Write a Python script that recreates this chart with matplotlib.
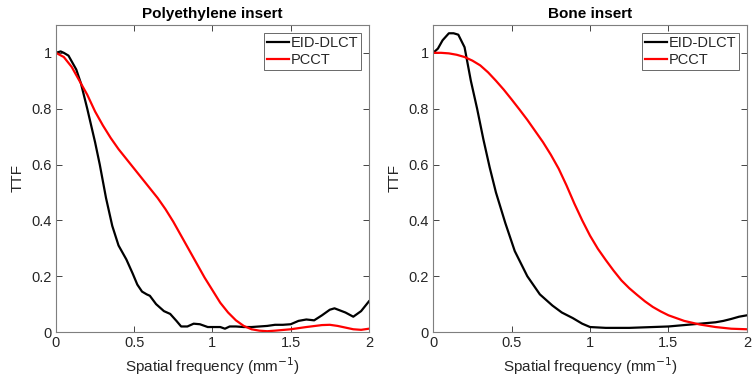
import matplotlib
matplotlib.use("Agg")
import matplotlib.pyplot as plt
from matplotlib.ticker import FuncFormatter

plt.rcParams['font.family'] = ['Liberation Sans', 'DejaVu Sans']

# Polyethylene insert
pe_eid_x = [0, 0.03, 0.05, 0.08, 0.1, 0.13, 0.16, 0.2, 0.25, 0.28, 0.32, 0.36, 0.4, 0.45, 0.49, 0.52, 0.55, 0.58, 0.6, 0.64, 0.69, 0.73, 0.77, 0.8, 0.84, 0.88, 0.92, 0.97, 1.0, 1.05, 1.08, 1.11, 1.15, 1.2, 1.25, 1.3, 1.35, 1.4, 1.45, 1.5, 1.55, 1.6, 1.65, 1.7, 1.75, 1.78, 1.85, 1.9, 1.95, 2.0]
pe_eid_y = [1.0, 1.005, 1.0, 0.99, 0.97, 0.94, 0.89, 0.8, 0.68, 0.6, 0.48, 0.38, 0.31, 0.26, 0.21, 0.17, 0.145, 0.135, 0.13, 0.1, 0.075, 0.065, 0.04, 0.02, 0.02, 0.03, 0.028, 0.018, 0.018, 0.018, 0.012, 0.02, 0.02, 0.018, 0.018, 0.02, 0.022, 0.026, 0.026, 0.028, 0.04, 0.045, 0.042, 0.06, 0.08, 0.085, 0.07, 0.055, 0.075, 0.11]
pe_pcct_x = [0, 0.05, 0.1, 0.15, 0.2, 0.25, 0.3, 0.35, 0.4, 0.45, 0.5, 0.55, 0.6, 0.65, 0.7, 0.75, 0.8, 0.85, 0.9, 0.95, 1.0, 1.05, 1.1, 1.15, 1.2, 1.25, 1.3, 1.35, 1.4, 1.5, 1.6, 1.7, 1.75, 1.8, 1.9, 1.95, 2.0]
pe_pcct_y = [1.0, 0.985, 0.95, 0.9, 0.85, 0.79, 0.74, 0.695, 0.655, 0.62, 0.585, 0.55, 0.515, 0.48, 0.44, 0.395, 0.345, 0.295, 0.245, 0.195, 0.15, 0.105, 0.07, 0.042, 0.022, 0.01, 0.005, 0.003, 0.005, 0.01, 0.018, 0.025, 0.026, 0.022, 0.01, 0.008, 0.012]

# Bone insert
bone_eid_x = [0, 0.03, 0.06, 0.1, 0.13, 0.16, 0.2, 0.24, 0.28, 0.32, 0.36, 0.4, 0.46, 0.52, 0.6, 0.68, 0.76, 0.82, 0.89, 0.95, 1.0, 1.1, 1.25, 1.4, 1.5, 1.6, 1.7, 1.8, 1.85, 1.9, 1.95, 2.0]
bone_eid_y = [1.0, 1.015, 1.045, 1.07, 1.07, 1.065, 1.02, 0.9, 0.8, 0.69, 0.59, 0.5, 0.39, 0.29, 0.2, 0.135, 0.095, 0.07, 0.05, 0.03, 0.018, 0.015, 0.015, 0.018, 0.02, 0.025, 0.03, 0.035, 0.04, 0.047, 0.055, 0.06]
bone_pcct_x = [0, 0.05, 0.1, 0.15, 0.2, 0.25, 0.3, 0.35, 0.4, 0.45, 0.5, 0.55, 0.6, 0.65, 0.7, 0.75, 0.8, 0.85, 0.9, 0.95, 1.0, 1.05, 1.1, 1.15, 1.2, 1.25, 1.3, 1.35, 1.4, 1.45, 1.5, 1.6, 1.7, 1.8, 1.9, 2.0]
bone_pcct_y = [1.0, 1.0, 0.998, 0.993, 0.985, 0.972, 0.955, 0.93, 0.9, 0.868, 0.833, 0.797, 0.76, 0.72, 0.68, 0.635, 0.585, 0.525, 0.46, 0.4, 0.345, 0.298, 0.258, 0.22, 0.185, 0.157, 0.133, 0.11, 0.09, 0.074, 0.06, 0.04, 0.027, 0.018, 0.012, 0.01]

titles = ["Polyethylene insert", "Bone insert"]
series = [(pe_eid_x, pe_eid_y, pe_pcct_x, pe_pcct_y),
          (bone_eid_x, bone_eid_y, bone_pcct_x, bone_pcct_y)]
x_ticks = [0, 0.5, 1, 1.5, 2]
y_ticks = [0, 0.2, 0.4, 0.6, 0.8, 1]

fig = plt.figure(figsize=(7.56, 3.83), dpi=100)
positions = [[0.074, 0.133, 0.414, 0.802], [0.573, 0.133, 0.415, 0.802]]
axcol = '#262626'
fmt = FuncFormatter(lambda v, p: ('%g' % v))
for pos, title, (ex, ey, px, py) in zip(positions, titles, series):
    ax = fig.add_axes(pos)
    ax.plot(ex, ey, color='black', lw=1.6, label='EID-DLCT')
    ax.plot(px, py, color='#ff0000', lw=1.6, label='PCCT')
    ax.set_xlim(0, 2)
    ax.set_ylim(0, 1.1)
    ax.set_xticks(x_ticks)
    ax.set_yticks(y_ticks)
    ax.xaxis.set_major_formatter(fmt)
    ax.yaxis.set_major_formatter(fmt)
    ax.tick_params(direction='in', top=True, right=True, length=4, width=0.6,
                   colors=axcol, labelsize=10.5, labelcolor=axcol, pad=3)
    for s in ax.spines.values():
        s.set_color('#7f7f7f')
        s.set_linewidth(0.8)
    ax.set_title(title, fontsize=11, fontweight='bold', color='black', pad=5)
    ax.set_xlabel('Spatial frequency (mm$^{-1}$)', fontsize=11, color=axcol, labelpad=4)
    ax.set_ylabel('TTF', fontsize=11, color=axcol, labelpad=5)
    leg = ax.legend(loc='upper right', fontsize=10.5, frameon=True, fancybox=False,
                    edgecolor='#262626', handlelength=1.5, handletextpad=0.1,
                    borderpad=0.2, labelspacing=0.2, borderaxespad=0.55)
    leg.get_frame().set_linewidth(0.6)
    for t in leg.get_texts():
        t.set_color(axcol)

fig.savefig('out.png', dpi=100)
